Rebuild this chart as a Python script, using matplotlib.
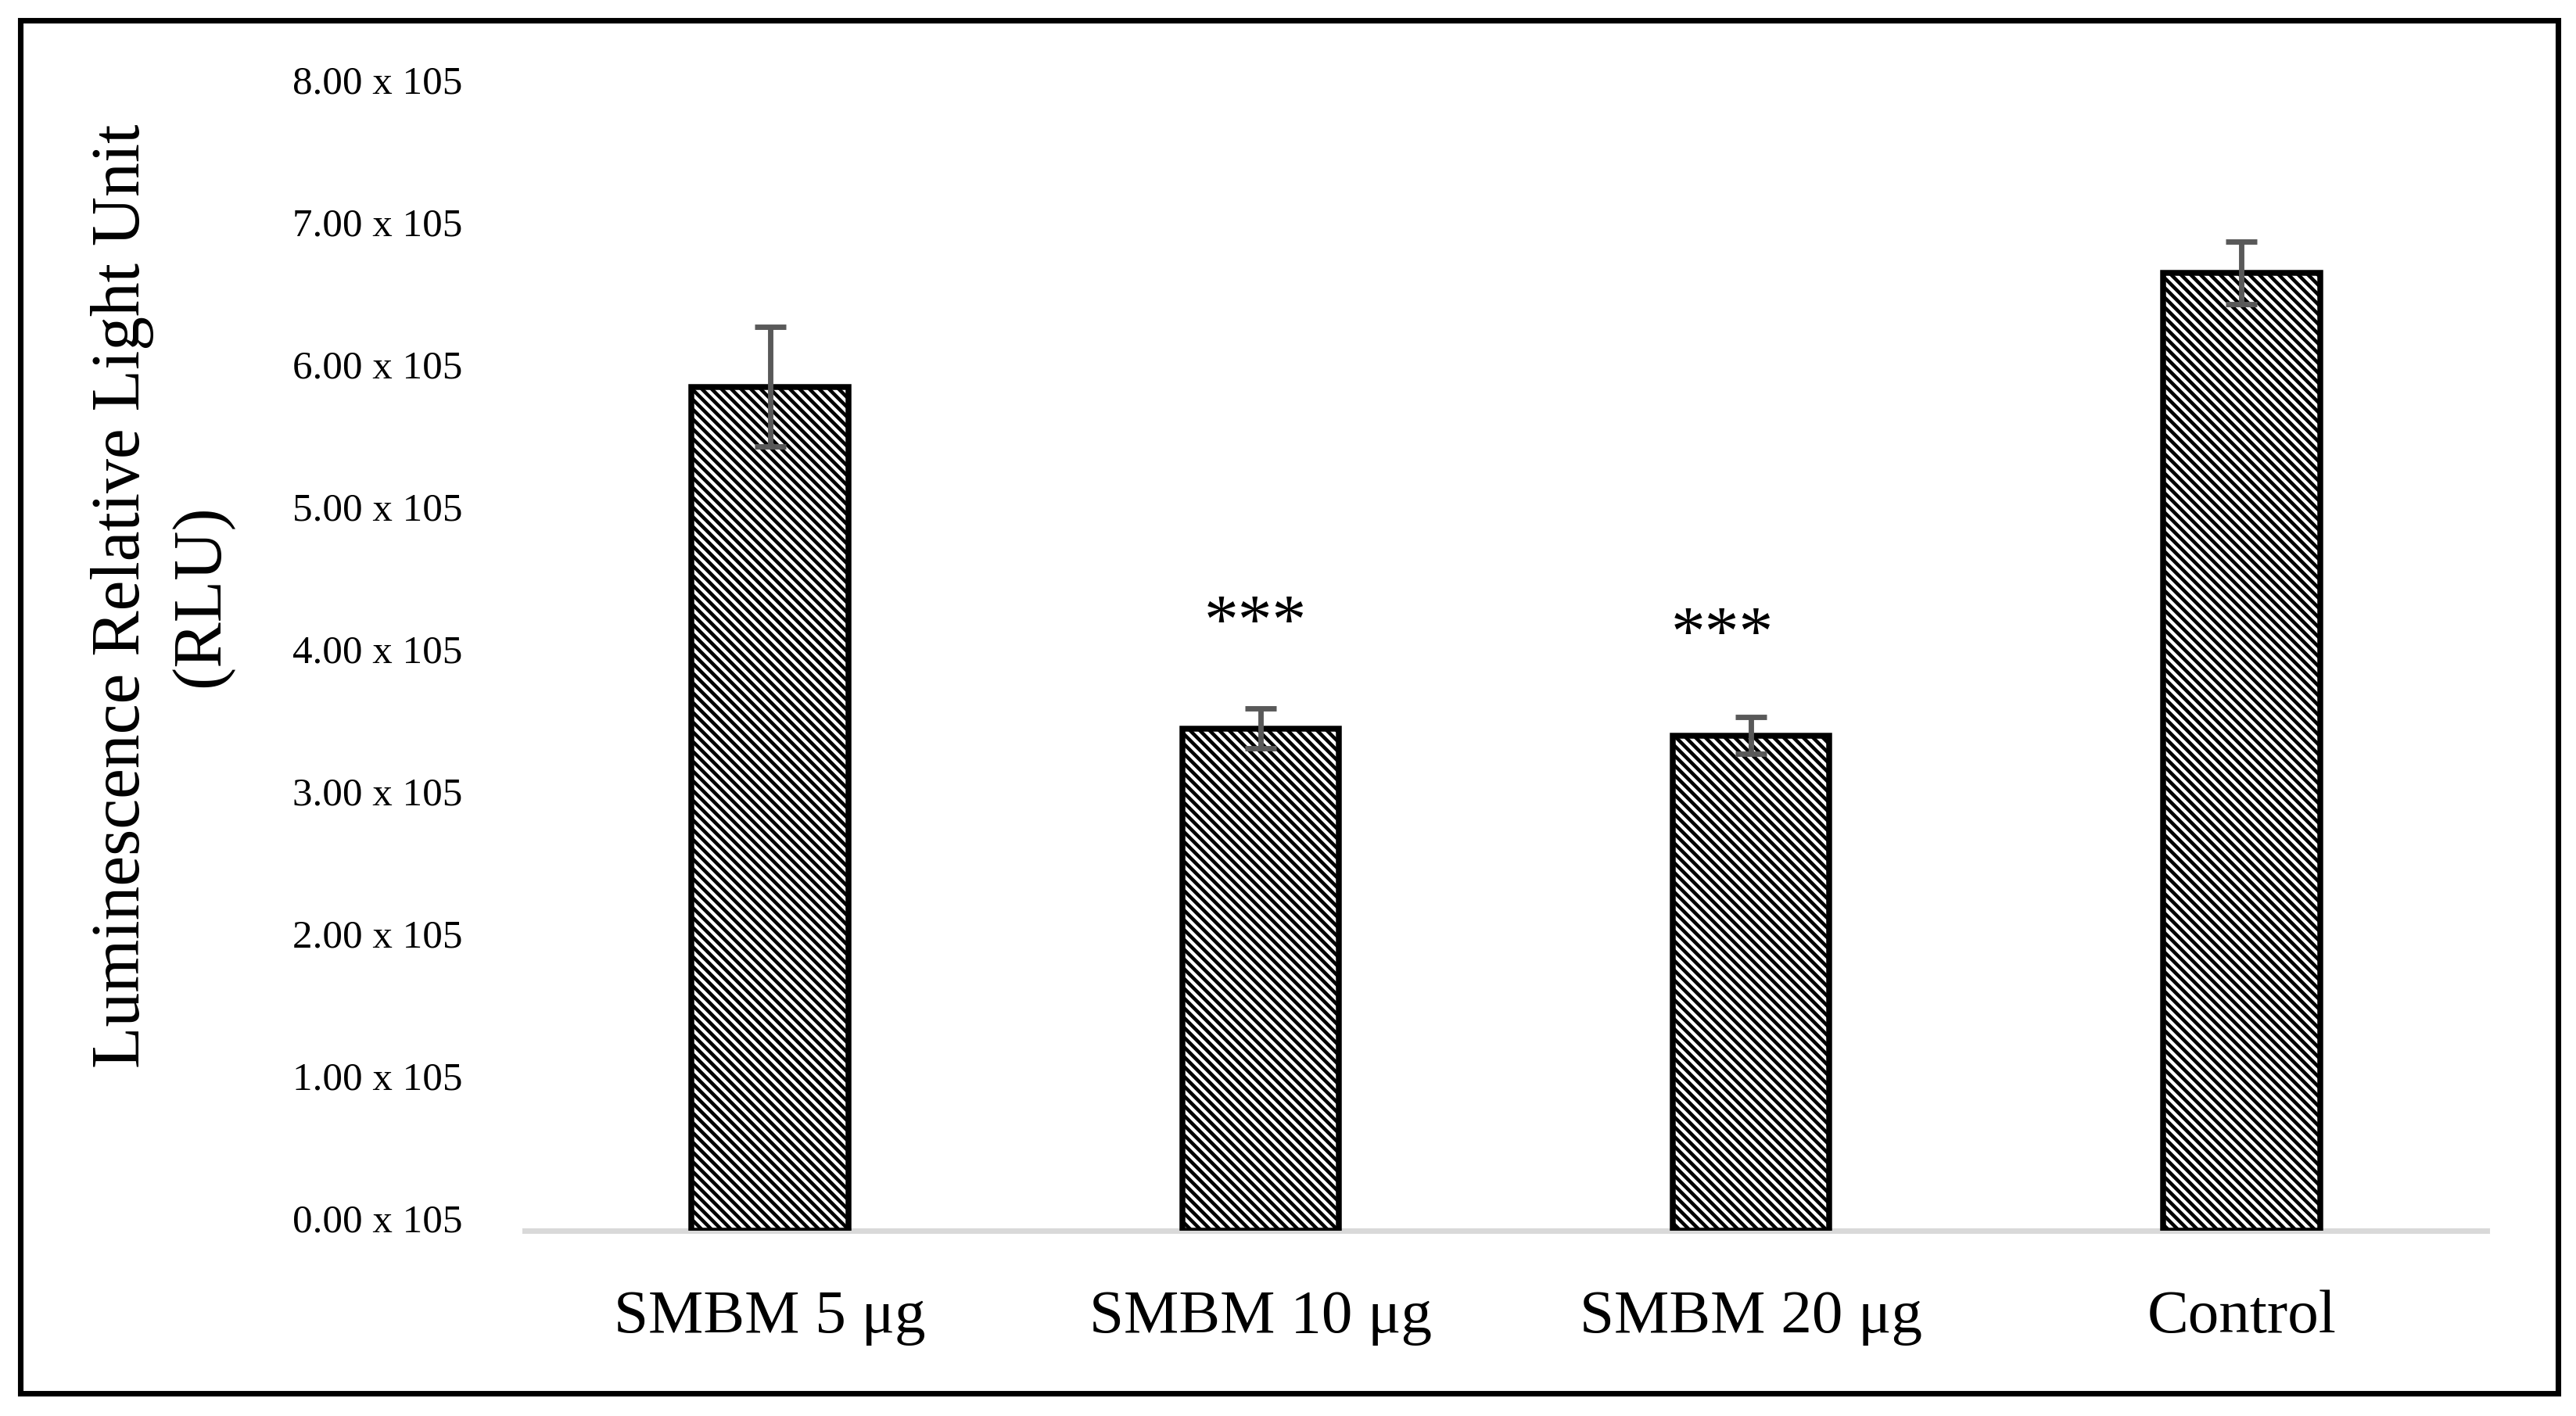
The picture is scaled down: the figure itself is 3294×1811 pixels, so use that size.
import numpy as np
import matplotlib
matplotlib.use('Agg')
import matplotlib.pyplot as plt
import matplotlib.transforms as mtransforms
from matplotlib.patches import Rectangle

# data
categories = ['SMBM 5 μg', 'SMBM 10 μg', 'SMBM 20 μg', 'Control']
rlu_mean = [5.93e5, 3.53e5, 3.48e5, 6.73e5]
rlu_err = [0.42e5, 0.14e5, 0.13e5, 0.22e5]
significance = ['', '***', '***', '']
y_ticks = [0, 1e5, 2e5, 3e5, 4e5, 5e5, 6e5, 7e5, 8e5]
y_tick_labels = ['%.2f x 105' % (v / 1e5) for v in y_ticks]

plt.rcParams['font.family'] = ['Liberation Serif', 'DejaVu Serif']
plt.rcParams['hatch.linewidth'] = 2.2

DPI = 150
fig = plt.figure(figsize=(3295 / DPI, 1811 / DPI), dpi=DPI)
ax = fig.add_axes([671 / 3295, 1 - 1574 / 1811, (3180 - 671) / 3295, (1574 - 118) / 1811])

x = np.arange(len(categories))
ax.bar(x, rlu_mean, width=0.32, facecolor='white', edgecolor='black',
       linewidth=3.6, hatch='\\\\\\\\', zorder=2)
ax.errorbar(x, rlu_mean, yerr=rlu_err, fmt='none', ecolor='#595959',
            elinewidth=3.3, capsize=9.5, capthick=3.3, zorder=3)

# significance stars (slightly left of the bar centre, like the original)
star_dx = [0, -0.011, -0.059, 0]
star_y = [0, 4.14e5, 4.055e5, 0]
for i, s in enumerate(significance):
    if s:
        ax.text(x[i] + star_dx[i], star_y[i], s, ha='center', va='baseline',
                fontsize=42)

ax.set_xlim(-0.5, len(categories) - 0.5)
ax.set_ylim(0, 8e5)
ax.set_xticks(x)
ax.set_xticklabels(categories, fontsize=38)
ax.set_yticks(y_ticks)
ax.set_yticklabels(y_tick_labels, fontsize=24.5)
ax.tick_params(axis='both', length=0)
ax.tick_params(axis='x', pad=36)
ax.tick_params(axis='y', pad=38)

# Excel-style labels sit a bit above their value
off = mtransforms.ScaledTranslation(0, 16 / DPI, fig.dpi_scale_trans)
for lbl in ax.get_yticklabels():
    lbl.set_transform(lbl.get_transform() + off)

for side in ['top', 'right', 'left']:
    ax.spines[side].set_visible(False)
ax.spines['bottom'].set_color('#d9d9d9')
ax.spines['bottom'].set_linewidth(3.4)
ax.spines['bottom'].set_zorder(1)

fig.text(207 / 3295, 1 - 762 / 1811, 'Luminescence Relative Light Unit\n(RLU)',
         rotation=90, ha='center', va='center', multialignment='center',
         fontsize=42, linespacing=1.32)

# outer frame around the whole figure
fig.patches.append(Rectangle((26.5 / 3295, 1 - 1782 / 1811),
                             (3271 - 26.5) / 3295, (1782 - 26.5) / 1811,
                             transform=fig.transFigure, fill=False,
                             edgecolor='black', linewidth=3.4))

fig.savefig('out.png', dpi=DPI)
